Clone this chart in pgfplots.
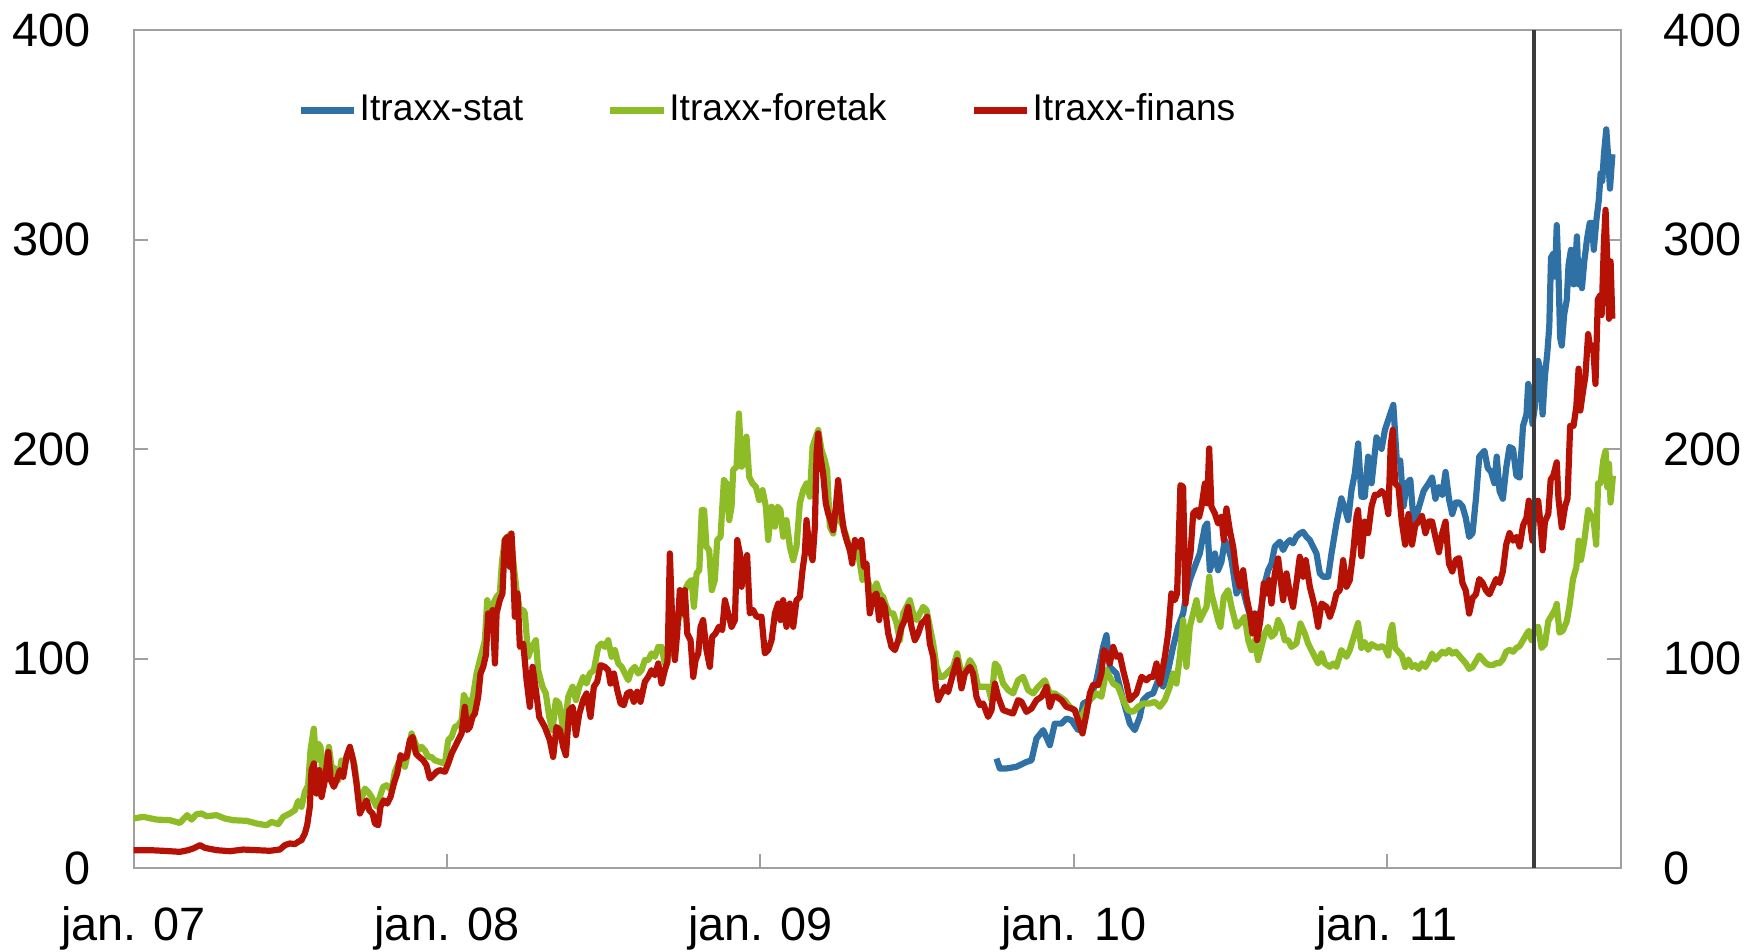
\documentclass[border=0pt]{standalone}
\usepackage{fontspec}
\setmainfont{Liberation Sans}
\usepackage{pgfplots}
\usepackage{pgfplotstable}
\pgfplotsset{compat=1.18}
\definecolor{stat}{HTML}{3071A5}
\definecolor{foretak}{HTML}{8EBC26}
\definecolor{finans}{HTML}{B51205}
\definecolor{frame}{HTML}{A0A0A0}
\definecolor{vline}{HTML}{3C3C3C}

% px = horizontal position (jan. 07 = 120, one year = 281.3)
\pgfplotstableread{
px v
894.5 52.3
897.5 47.6
903.5 47.6
912.4 48.4
921.4 50.7
925.9 51.5
930.4 61.9
936.4 65.9
942.4 58.7
946.8 69.0
952.8 69.0
957.3 71.4
961.8 70.6
967.8 65.9
972.3 78.6
978.3 80.2
984.2 89.7
990.2 105.6
993.2 111.2
996.2 96.1
1002.2 92.9
1008.2 80.2
1014.2 69.0
1018.6 65.9
1023.1 72.2
1026.1 80.2
1030.6 82.6
1035.1 83.4
1039.6 89.7
1044.1 86.6
1048.6 94.5
1053.0 105.6
1057.5 115.2
1062.0 121.6
1065.0 131.1
1068.0 137.5
1072.5 143.9
1077.0 150.2
1081.5 163.0
1083.6 164.5
1086.0 142.2
1090.5 150.2
1093.4 142.2
1096.4 146.2
1099.4 156.6
1102.4 153.4
1105.4 147.0
1109.9 131.1
1114.4 135.9
1118.9 126.3
1123.3 118.4
1127.8 115.2
1132.3 124.7
1135.3 135.9
1138.3 142.2
1141.3 145.4
1144.3 153.4
1148.8 155.8
1151.8 151.8
1154.8 155.0
1157.8 156.6
1160.7 155.0
1163.7 158.2
1166.7 159.7
1169.7 160.5
1172.7 158.2
1175.7 156.6
1178.7 153.4
1181.7 150.2
1184.7 140.7
1187.7 139.1
1192.2 139.1
1195.2 150.2
1199.6 164.5
1204.1 176.5
1207.1 171.7
1210.1 166.1
1213.1 180.4
1216.1 188.4
1219.1 202.7
1222.1 177.3
1225.1 177.3
1228.1 196.4
1231.1 183.7
1235.6 205.6
1240.2 200.1
1243.2 209.2
1247.7 216.5
1250.7 221.1
1253.8 194.6
1256.8 194.6
1259.8 172.7
1262.8 183.7
1265.9 185.5
1268.9 165.4
1271.9 169.0
1274.9 174.5
1277.9 180.0
1282.5 183.7
1285.5 186.4
1288.5 176.3
1291.6 181.8
1294.6 178.2
1297.6 189.1
1300.6 176.3
1303.6 169.0
1306.7 174.5
1309.7 174.5
1312.7 172.7
1315.7 167.2
1318.8 158.1
1321.8 159.9
1324.8 176.3
1327.8 196.4
1332.4 199.2
1335.4 191.0
1338.4 189.1
1341.4 183.7
1343.5 196.4
1346.0 180.0
1349.0 176.3
1352.0 191.0
1355.0 201.0
1358.1 200.1
1361.1 187.3
1364.1 186.4
1367.1 211.1
1370.2 216.5
1371.7 231.1
1373.8 227.5
1375.6 212.0
1377.7 220.2
1380.7 242.1
1382.2 238.4
1384.7 216.5
1386.8 234.8
1388.9 245.8
1390.7 258.5
1392.2 291.4
1394.3 293.2
1395.8 282.3
1397.4 306.9
1398.9 284.1
1400.4 253.1
1401.9 249.4
1404.0 264.0
1406.4 271.3
1407.9 287.8
1410.1 295.1
1412.5 278.6
1414.0 287.8
1415.5 301.5
1417.0 278.6
1418.5 289.6
1420.0 276.8
1422.1 289.6
1424.6 300.5
1427.0 307.9
1429.1 307.9
1430.6 295.1
1433.0 309.7
1435.1 318.8
1436.7 331.6
1438.2 327.9
1439.7 340.7
1441.8 352.6
1443.3 340.7
1445.1 324.3
1447.3 340.7
}\statdata

\pgfplotstableread{
px v
120.0 23.7
128.6 24.5
140.6 23.2
152.6 22.9
161.5 21.6
168.1 25.3
172.0 23.2
176.5 25.8
181.0 26.1
185.5 24.8
194.5 25.3
202.0 23.7
209.4 22.9
221.4 22.6
230.4 21.3
239.3 20.5
243.8 22.1
249.8 21.0
254.3 24.5
260.3 26.1
264.8 27.7
267.8 32.1
270.7 29.3
273.7 36.4
276.7 39.6
278.8 56.3
281.8 66.6
283.6 51.5
285.7 59.5
287.8 57.9
290.2 38.8
293.2 51.5
295.3 57.9
297.7 48.4
300.7 47.6
303.7 42.0
306.6 51.5
309.6 50.7
312.6 55.5
315.6 54.7
318.6 48.4
321.6 34.8
324.6 33.2
327.6 38.0
330.6 36.4
333.6 34.0
338.1 29.3
341.0 34.0
344.0 38.8
347.0 39.6
351.5 37.2
354.5 46.0
357.5 49.9
360.5 51.5
363.5 48.4
366.5 55.5
369.5 64.3
372.5 60.3
375.4 56.3
378.4 57.9
381.4 56.3
384.4 53.1
387.4 53.1
390.4 51.5
394.9 50.7
399.4 49.9
402.4 61.1
405.4 62.7
408.4 67.4
411.4 68.2
414.4 70.6
416.4 82.6
418.8 80.2
420.3 72.2
422.4 77.8
424.8 82.6
427.8 92.9
430.8 99.3
433.2 104.1
435.3 108.8
437.4 127.9
439.8 121.6
442.8 126.3
445.8 129.5
448.7 131.1
450.8 147.0
453.2 156.6
456.2 158.2
458.6 159.7
460.7 147.0
463.7 132.7
466.7 123.2
469.7 123.2
471.2 121.6
474.2 100.9
477.2 105.6
479.3 107.2
481.1 108.8
483.1 94.5
487.0 86.6
490.0 83.4
493.0 72.2
496.0 65.9
499.0 80.2
502.0 78.6
506.2 64.3
510.1 81.8
514.0 86.6
517.0 80.2
520.0 86.6
523.5 91.3
526.5 88.1
529.5 92.9
533.1 94.5
537.0 105.6
540.0 107.2
543.0 105.6
546.0 108.8
549.0 100.9
552.0 104.1
555.0 97.7
558.0 96.1
561.0 92.9
564.0 89.7
566.9 94.5
569.9 96.1
572.9 92.9
575.9 94.5
578.9 99.3
581.9 99.3
584.9 102.5
587.9 100.9
590.9 105.6
593.9 105.6
596.8 97.7
599.8 100.9
602.8 102.5
605.8 112.0
608.8 118.4
611.8 121.6
614.8 132.7
617.8 135.9
620.8 137.5
622.9 124.7
625.3 140.7
627.7 142.2
630.0 170.9
632.1 170.9
634.2 153.4
636.6 151.8
639.0 132.7
641.7 137.5
643.8 156.6
646.8 158.2
649.8 185.2
652.2 183.6
654.6 166.1
656.7 172.5
658.2 190.0
661.2 191.6
663.3 217.0
665.7 191.6
667.7 193.2
670.1 205.9
672.5 186.8
675.5 183.6
678.5 182.0
681.5 175.7
684.5 180.4
687.5 172.5
689.6 156.6
692.6 172.5
695.6 163.0
698.0 172.5
700.6 170.9
703.0 158.2
706.0 166.1
709.0 153.4
712.0 147.0
715.0 153.4
718.0 174.1
721.0 180.4
724.0 183.6
727.0 177.3
729.4 201.1
732.4 205.9
734.5 209.1
737.5 199.5
740.4 194.8
742.5 190.0
744.9 163.0
747.9 159.7
750.9 172.5
753.9 166.1
756.9 163.0
759.9 158.2
762.9 151.8
765.9 151.8
768.9 155.0
771.9 145.4
774.2 137.5
777.8 139.1
780.8 134.3
783.8 131.1
786.8 135.9
789.8 131.1
792.8 129.5
795.8 124.7
798.8 121.6
801.8 121.6
804.8 116.8
807.8 108.8
810.7 121.6
813.7 124.7
816.7 127.9
819.7 121.6
822.7 118.4
825.7 121.6
828.7 124.7
831.7 123.2
834.7 115.2
837.7 107.2
840.7 96.1
843.7 91.3
846.6 91.3
849.6 92.9
855.6 96.1
859.2 102.5
863.1 92.9
866.1 92.9
870.6 99.3
874.1 96.1
878.0 86.6
882.5 86.6
887.0 86.6
890.0 80.2
893.0 97.7
896.0 96.1
900.5 88.1
905.0 85.0
909.4 83.4
913.9 89.7
918.4 91.3
922.9 85.0
927.4 83.4
931.9 86.6
937.9 89.7
942.4 83.4
946.8 83.4
951.3 81.8
955.8 80.2
960.3 77.0
964.8 75.4
969.3 70.6
973.8 75.4
978.3 80.2
984.2 83.4
988.7 81.8
993.2 94.5
996.2 91.3
999.2 88.1
1003.7 86.6
1008.2 80.2
1012.7 75.4
1017.1 74.6
1021.6 77.0
1026.1 78.6
1032.1 78.6
1036.6 79.4
1041.1 77.0
1045.6 80.2
1050.1 86.6
1053.0 92.9
1056.0 88.1
1059.0 100.9
1062.0 118.4
1065.0 96.1
1068.0 115.2
1071.0 121.6
1074.0 127.9
1077.0 118.4
1080.0 121.6
1083.0 124.7
1085.4 139.1
1087.4 131.1
1090.5 124.7
1093.4 118.4
1095.5 115.2
1098.5 129.5
1102.4 132.7
1105.4 124.7
1109.9 115.2
1112.9 116.8
1117.4 120.0
1120.4 108.8
1123.3 104.1
1126.3 108.8
1129.3 99.3
1132.3 105.6
1135.3 112.0
1138.3 115.2
1141.3 110.4
1144.3 112.0
1147.3 118.4
1150.3 115.2
1153.3 108.8
1156.3 108.8
1159.3 105.6
1163.7 107.2
1167.3 116.8
1171.2 112.0
1174.2 107.2
1178.7 102.5
1183.2 97.7
1186.2 102.5
1189.2 97.7
1193.7 96.1
1196.7 97.7
1199.6 96.1
1204.1 104.1
1208.6 100.9
1211.6 104.1
1216.1 112.0
1219.0 117.0
1222.0 105.1
1225.0 107.9
1228.1 104.2
1231.1 106.9
1234.1 106.0
1237.1 105.1
1240.2 106.0
1243.2 105.1
1246.2 101.5
1247.7 112.4
1249.8 116.1
1252.3 105.1
1255.3 103.3
1258.3 101.5
1261.3 96.0
1264.3 99.6
1267.4 96.0
1270.4 96.9
1273.4 95.1
1276.4 97.8
1279.5 96.0
1282.5 98.7
1285.5 102.4
1288.5 99.6
1291.6 101.5
1294.6 103.3
1297.6 102.4
1300.6 104.2
1303.6 102.4
1306.7 103.3
1309.7 101.5
1312.7 99.6
1315.7 97.8
1318.8 95.1
1321.8 96.0
1324.8 98.7
1327.8 101.5
1330.9 99.6
1333.9 97.8
1336.9 96.9
1339.9 96.9
1343.0 97.8
1346.0 97.8
1349.0 99.6
1352.0 103.3
1355.0 104.2
1358.1 103.3
1361.1 105.1
1364.1 106.0
1367.1 108.8
1370.2 111.5
1372.3 113.3
1374.7 108.8
1377.7 114.2
1380.7 115.2
1383.7 105.1
1386.8 106.9
1389.8 117.9
1392.8 120.6
1395.8 123.4
1397.4 126.1
1399.8 112.4
1402.8 113.3
1406.4 117.9
1408.8 125.2
1411.9 138.0
1414.9 143.5
1417.0 156.3
1419.1 147.1
1422.1 156.3
1425.5 170.9
1427.6 169.0
1430.6 165.4
1432.7 154.4
1434.5 183.7
1436.7 183.7
1439.1 194.6
1441.2 199.2
1442.7 181.8
1444.2 193.0
1445.7 174.5
1447.8 187.3
}\foretakdata

\pgfplotstableread{
px v
120.0 8.6
134.6 8.6
146.6 8.3
161.5 7.8
169.0 8.6
173.5 9.4
179.5 11.0
184.0 9.7
194.5 8.6
206.4 8.1
218.4 8.9
230.4 8.6
242.3 8.3
251.3 8.9
255.8 11.0
260.3 11.8
264.8 11.5
267.8 12.6
270.7 13.4
273.7 16.5
275.8 20.5
278.2 29.3
279.7 46.8
281.8 50.0
284.2 35.6
286.6 46.8
288.7 34.0
291.7 42.0
294.7 55.5
297.1 42.0
299.8 38.8
302.2 42.0
305.2 46.8
308.1 43.6
311.1 53.1
314.1 57.9
317.1 51.5
320.1 40.4
323.1 26.1
326.1 29.3
329.1 32.4
331.5 27.7
334.5 26.1
336.6 21.3
339.5 20.5
341.6 29.3
344.6 32.4
347.6 30.8
350.6 34.0
353.6 40.4
356.6 45.2
359.6 54.0
362.0 52.3
365.0 53.1
368.0 61.1
370.4 62.7
373.4 54.7
376.4 53.1
379.9 51.5
382.9 49.1
385.9 42.8
388.9 44.3
391.9 46.0
394.9 46.8
399.4 46.0
402.4 49.9
405.4 54.7
408.4 57.9
411.4 61.1
414.4 64.3
417.3 77.0
419.4 65.9
421.8 67.4
424.2 72.2
426.3 73.8
429.3 81.8
431.4 92.9
433.8 96.1
436.2 101.7
438.3 121.6
440.4 113.6
442.2 123.2
444.3 97.7
445.8 121.6
448.7 127.9
451.1 131.1
453.2 156.6
455.6 158.2
457.7 143.8
459.2 159.7
460.7 143.8
462.2 120.0
464.6 131.1
466.7 105.6
469.7 107.2
472.7 89.7
475.7 77.0
478.1 96.1
481.1 85.0
484.1 72.2
489.1 67.4
493.6 61.1
496.6 53.1
499.6 67.4
502.6 65.9
505.6 57.9
508.0 53.9
511.0 75.4
514.0 77.0
517.0 63.5
520.0 73.8
523.5 80.2
526.5 83.4
530.1 72.2
533.1 86.6
536.1 89.0
539.1 96.9
543.0 96.1
546.0 94.5
548.1 88.1
551.1 92.9
554.1 85.0
557.1 78.6
560.0 77.8
563.0 83.4
566.0 84.2
569.0 79.4
572.0 84.2
575.0 79.4
578.9 89.0
581.9 91.3
584.9 94.5
587.9 92.1
590.9 97.7
593.9 88.1
596.8 94.5
599.2 98.5
601.3 150.2
603.4 118.4
605.8 99.3
607.9 112.0
610.3 132.7
612.7 121.6
614.8 132.7
616.9 112.0
619.9 108.8
622.3 91.3
624.4 99.3
626.8 102.5
628.9 115.2
631.2 118.4
634.2 104.1
637.2 96.1
639.3 110.4
642.3 112.0
645.3 115.2
648.3 113.6
650.7 127.9
653.7 121.6
656.7 115.2
659.7 118.4
661.8 156.6
664.2 150.2
665.7 134.3
667.7 143.8
670.7 149.4
673.1 121.6
676.1 123.2
679.1 120.0
683.6 120.0
686.6 102.5
689.6 104.1
692.6 108.8
695.6 121.6
698.6 126.3
700.6 118.4
703.0 127.9
706.0 115.2
709.0 126.3
712.0 115.2
715.0 127.9
718.0 129.5
720.4 142.2
722.5 150.2
724.0 166.1
726.4 153.4
729.4 147.0
731.5 163.0
733.0 197.9
734.5 207.5
736.5 196.4
738.9 188.4
741.3 174.1
743.4 169.3
745.5 166.1
747.9 161.3
750.3 172.5
752.4 185.2
755.4 169.3
757.5 161.3
759.9 156.6
762.9 151.8
765.0 145.4
767.4 156.6
770.4 153.4
773.3 156.6
775.4 143.8
777.8 145.4
780.8 121.6
783.8 129.5
786.8 131.1
789.2 118.4
791.3 127.9
794.3 124.7
797.3 112.0
800.3 105.6
803.3 104.1
806.3 108.8
809.3 115.2
812.2 118.4
815.2 124.7
818.2 115.2
821.2 108.8
824.2 112.0
827.2 116.8
830.2 118.4
832.3 120.0
834.7 107.2
837.7 100.9
840.1 86.6
842.2 80.2
845.1 83.4
848.1 86.6
851.1 84.0
855.6 93.0
859.2 99.3
863.1 85.8
866.1 92.9
870.6 96.1
873.5 92.9
876.5 81.8
879.5 77.8
882.5 78.6
887.0 72.2
890.0 75.4
893.0 88.1
896.0 81.8
900.5 75.4
905.0 74.6
909.4 73.8
913.9 80.2
916.9 79.4
921.4 74.6
925.9 76.2
930.4 80.2
934.9 81.8
939.4 86.6
942.4 77.0
945.3 81.8
948.3 81.8
952.8 80.2
957.3 77.0
961.8 76.2
964.8 75.4
967.8 70.6
971.7 64.3
975.3 73.8
978.3 83.4
981.2 87.4
985.7 87.4
988.7 92.9
990.8 104.1
993.2 102.5
996.2 97.7
999.2 105.6
1002.2 100.9
1005.2 101.7
1008.2 94.5
1011.2 88.1
1014.2 80.2
1017.1 81.8
1020.1 83.4
1024.6 91.3
1029.1 89.7
1032.1 91.3
1035.1 91.3
1038.1 97.7
1041.1 88.1
1045.6 100.9
1048.6 112.0
1051.5 131.1
1054.5 127.9
1056.6 131.1
1059.6 182.8
1062.0 182.0
1064.1 126.3
1066.5 143.8
1068.6 150.2
1071.0 169.3
1074.0 170.9
1076.4 167.7
1078.5 172.5
1081.5 183.6
1083.6 174.1
1085.4 200.3
1087.4 172.5
1090.5 169.3
1093.4 164.5
1096.4 167.7
1098.5 156.6
1100.9 171.7
1103.9 161.3
1106.9 153.4
1109.9 140.7
1112.9 134.3
1115.9 142.2
1118.9 129.5
1121.9 121.6
1124.2 112.0
1126.3 121.6
1128.4 108.8
1131.4 118.4
1134.4 135.9
1136.8 131.1
1139.2 137.5
1141.3 126.3
1144.3 140.7
1147.3 147.8
1149.7 137.5
1151.8 127.9
1154.8 140.7
1157.8 131.1
1160.7 124.7
1163.7 135.9
1166.7 148.6
1169.7 139.1
1172.1 147.0
1175.7 134.3
1180.2 124.7
1183.2 115.2
1186.2 126.3
1190.7 124.7
1193.7 120.0
1196.7 124.7
1199.6 131.1
1202.6 132.7
1205.6 147.0
1208.6 134.3
1211.6 137.5
1214.6 150.2
1217.6 167.7
1219.0 170.9
1222.0 148.9
1225.0 165.4
1228.1 159.9
1231.1 172.7
1234.1 178.2
1237.1 178.2
1240.2 180.0
1243.2 178.2
1246.2 169.0
1248.3 201.9
1250.1 209.2
1252.3 183.7
1255.3 181.8
1258.3 165.4
1261.3 154.4
1264.3 169.0
1267.4 154.4
1270.4 163.6
1273.4 165.4
1276.4 168.1
1279.5 159.9
1282.5 165.4
1285.5 165.4
1288.5 158.1
1291.6 150.8
1294.6 159.9
1297.6 165.4
1300.6 145.3
1303.6 141.6
1306.7 147.1
1309.7 148.0
1312.7 136.1
1315.7 132.5
1318.8 121.5
1321.8 128.9
1324.8 130.7
1327.8 138.0
1330.9 136.1
1333.9 132.5
1336.9 130.7
1339.9 134.3
1343.0 138.0
1346.0 136.1
1349.0 141.6
1352.0 154.4
1355.0 159.9
1358.1 156.3
1361.1 158.1
1364.1 153.5
1367.1 163.6
1370.2 167.2
1372.3 175.4
1373.8 163.6
1375.6 156.3
1377.7 174.5
1380.7 175.4
1382.2 167.2
1384.7 151.7
1386.8 165.4
1389.8 169.0
1391.9 185.5
1394.3 187.3
1397.4 193.7
1398.9 176.3
1401.9 162.6
1404.9 172.7
1407.0 176.3
1409.4 211.1
1412.5 211.1
1414.9 220.2
1417.0 238.4
1418.5 218.4
1420.9 227.5
1423.1 234.8
1425.5 254.9
1427.6 247.6
1430.0 249.4
1432.1 231.1
1434.2 271.3
1436.1 273.2
1437.6 264.0
1439.7 298.7
1441.2 314.2
1442.7 289.6
1444.2 262.2
1445.7 289.6
1447.2 262.2
}\finansdata

\begin{document}
\begin{tikzpicture}
\pgfplotsset{
  every axis/.append style={
    scale only axis,
    width=371.75pt, height=209.5pt,
    xmin=2007, xmax=2011.7458,
    ymin=0, ymax=400,
    ytick={0,100,200,300,400},
    tick label style={font=\fontsize{11.7}{14}\selectfont, inner sep=0pt},
    /pgf/number format/assume math mode=true,
  },
}
\begin{axis}[
    name=main,
    axis line style={frame, line width=0.5pt},
    tick style={frame, line width=0.5pt},
    major tick length=3.5pt,
    tick align=inside,
    xtick={2007,2008,2009,2010,2011},
    xticklabels={jan. 07, jan. 08, jan. 09, jan. 10, jan. 11},
    xtick pos=bottom,
    ytick pos=both,
    yticklabel pos=left,
    xticklabel style={anchor=north, yshift=-9.3pt},
    yticklabel style={anchor=east, xshift=-10.6pt},
    legend columns=3,
    legend cell align=left,
    legend style={
      at={(0.1102,0.904)}, anchor=west,
      draw=none, fill=none, inner sep=0pt, outer sep=0pt,
      font=\fontsize{9.3}{11}\selectfont,
      nodes={inner sep=0.6pt},
      column sep=0pt,
      /tikz/every even column/.append style={column sep=20.4pt},
    },
    legend image code/.code={\draw[#1, line width=1.55pt] (0pt,0pt) -- (13.4pt,0pt);},
    every axis plot/.append style={line width=1.55pt, line join=round},
  ]
  \addplot[stat] table[x expr={2007+(\thisrow{px}-120)/281.3}, y=v] {\statdata};
  \addplot[foretak] table[x expr={2007+(\thisrow{px}-120)/281.3}, y=v] {\foretakdata};
  \addplot[finans] table[x expr={2007+(\thisrow{px}-120)/281.3}, y=v] {\finansdata};
  \addplot[forget plot, vline, line width=1.15pt] coordinates {(2011.4685,0) (2011.4685,400)};
  \legend{Itraxx-stat, Itraxx-foretak, Itraxx-finans}
\end{axis}
\begin{axis}[
    hide x axis,
    axis y line*=right,
    y axis line style={draw=none},
    major tick length=0pt,
    yticklabel style={anchor=west, xshift=10.5pt},
  ]
  \addplot[draw=none] coordinates {(2008,0)};
\end{axis}
\pgfresetboundingbox
\path[use as bounding box] ([xshift=-33.4pt,yshift=-20.75pt]main.south west) rectangle ([xshift=31.5pt,yshift=7.5pt]main.north east);
\end{tikzpicture}
\end{document}
